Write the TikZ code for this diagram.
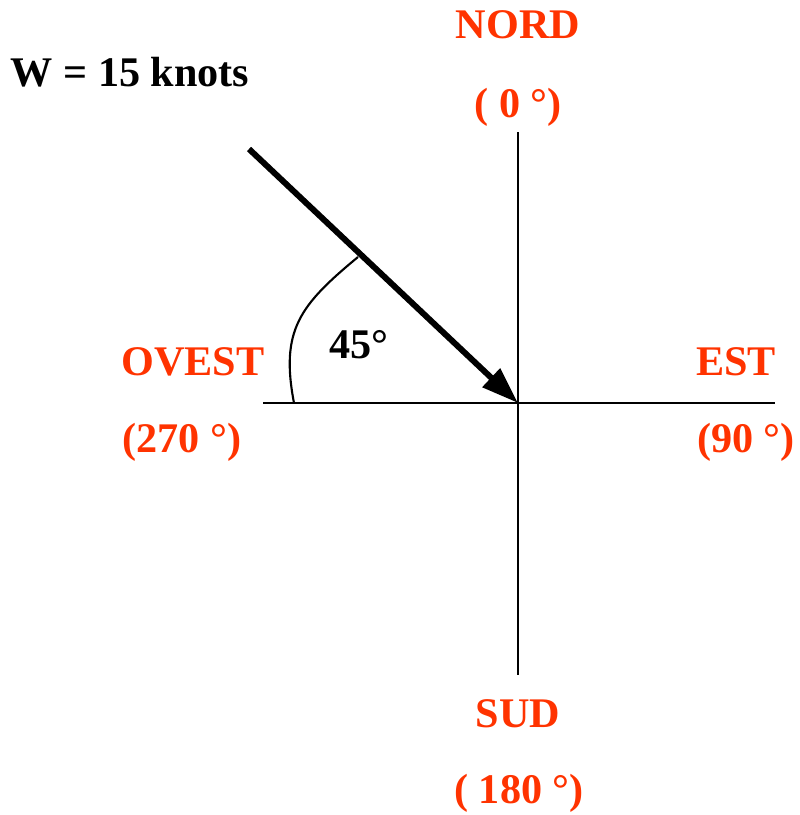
\documentclass[tikz,border=0pt]{standalone}
\usepackage{fontspec}
\setmainfont{Liberation Serif}
\usepackage{xcolor}
\usepackage{tikz}
\usetikzlibrary{arrows.meta,positioning,calc}
\definecolor{vermilion}{HTML}{FF3300}
\tikzset{
  axisline/.style={draw=black, line width=0.6pt},
  windarrow/.style={
    -{Triangle[length=10.5pt, width=7pt]}, line width=1.7pt, color=black
  },
  anglearc/.style={draw=black, line width=0.6pt},
  cardlabel/.style={
    anchor=base, inner sep=0pt, text=vermilion,
    font=\fontsize{12}{14}\selectfont\bfseries
  },
  blacklabel/.style={
    anchor=base, inner sep=0pt, text=black,
    font=\fontsize{12}{14}\selectfont\bfseries
  },
}

\begin{document}
\begin{tikzpicture}[x=0.01cm, y=-0.01cm]
    \useasboundingbox (0,0) rectangle (799,815);
    \coordinate (origin) at (518,403);
    \coordinate (westend) at (263,403);
    \coordinate (eastend) at (775,403);
    \coordinate (northend) at (518,132);
    \coordinate (southend) at (518,675);
    \coordinate (windstart) at (249,149);
    \coordinate (arcstart) at (358,257);
    \coordinate (arcend) at (294,403);
    % axes
    \draw[axisline] (westend) -- (eastend);
    \draw[axisline] (northend) -- (southend);
    % wind
    \draw[windarrow] (windstart) -- (origin);
    \draw[anglearc] (arcstart) .. controls (300,305) and (280,330) .. (arcend);
    % labels
    \node[cardlabel] (nord) at (518,38) {NORD};
    \node[cardlabel] (norddeg) at (518,117) {( 0 °)};
    \node[cardlabel] (ovest) at (193,375) {OVEST};
    \node[cardlabel] (ovestdeg) at (182,452) {(270 °)};
    \node[cardlabel] (est) at (736,375) {EST};
    \node[cardlabel] (estdeg) at (746,452) {(90 °)};
    \node[cardlabel] (sud) at (518,727) {SUD};
    \node[cardlabel] (suddeg) at (519,803) {( 180 °)};
    \node[blacklabel] (wind) at (130,87) {W = 15 knots};
    \node[blacklabel] (angle) at (359,358) {45°};
\end{tikzpicture}
\end{document}
